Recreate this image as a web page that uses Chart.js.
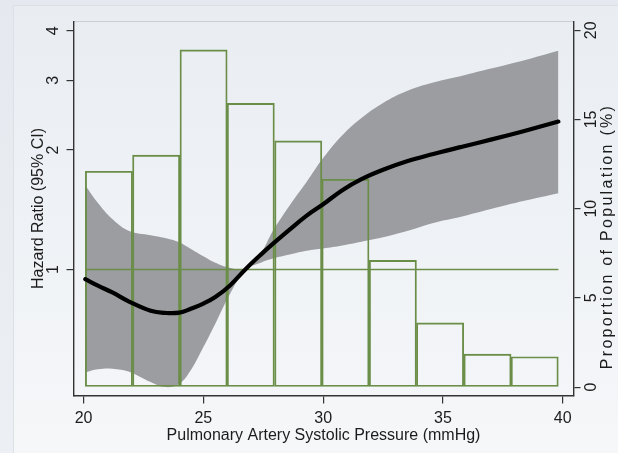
<!DOCTYPE html>
<html>
<head>
<meta charset="utf-8">
<script src="https://cdn.jsdelivr.net/npm/chart.js@4.4.1/dist/chart.umd.min.js"></script>
<style>
html, body { margin: 0; padding: 0; }
body { width: 618px; height: 453px; overflow: hidden; position: relative; background: linear-gradient(#e5e9ef, #eceff3); }
#panel { position: absolute; left: 13px; top: 5px; right: 0; bottom: 0; border-left: 1px solid #dce1e8; border-top: 1px solid #dce1e8; background: linear-gradient(#e9edf2, #f5f7f9); }
#wrap { position: absolute; left: 0; top: 0; width: 618px; height: 453px; }
</style>
</head>
<body>
<div id="panel"></div>
<div id="wrap"><canvas id="chart" width="618" height="453"></canvas></div>
<script>
// spline fit: pressure (mmHg) -> hazard ratio with 95% CI
const pressure    = [20.07, 20.6, 21.2, 21.9, 22.8, 23.4, 24.0, 24.5, 25.0, 25.5, 26.1, 26.75, 27.4, 27.9, 28.6, 29.3, 30.0, 30.8, 31.6, 32.5, 33.5, 34.6, 35.8, 37.0, 38.4, 39.82];
const hazardRatio = [0.945, 0.91, 0.875, 0.83, 0.787, 0.777, 0.778, 0.797, 0.82, 0.852, 0.91, 1.0, 1.09, 1.16, 1.26, 1.365, 1.46, 1.585, 1.69, 1.785, 1.875, 1.955, 2.04, 2.125, 2.235, 2.36];
const ciUpper     = [1.63, 1.47, 1.34, 1.25, 1.22, 1.2, 1.17, 1.125, 1.08, 1.04, 1.01, 1.003, 1.1, 1.25, 1.45, 1.66, 1.91, 2.18, 2.41, 2.63, 2.82, 2.96, 3.08, 3.21, 3.37, 3.56];
const ciLower     = [0.55, 0.56, 0.562, 0.552, 0.52, 0.505, 0.515, 0.56, 0.637, 0.73, 0.865, 0.997, 1.04, 1.065, 1.09, 1.115, 1.13, 1.15, 1.175, 1.205, 1.25, 1.31, 1.36, 1.42, 1.49, 1.557];

// histogram of the population
const binCenters = [21.06, 23.03, 25.01, 26.98, 28.96, 30.93, 32.91, 34.88, 36.86, 38.83];
const binPercent = [12.1, 13.0, 18.9, 15.9, 13.8, 11.65, 7.1, 3.6, 1.85, 1.7];

const xTicks = [20, 25, 30, 35, 40];
const hrTicks = [1, 2, 3, 4];
const pctTicks = [0, 5, 10, 15, 20];

const green = '#6a8e48';
const band = '#9b9da0';
const ink = '#1c1c1c';
const axisColor = '#333';
const FONT = '"Liberation Sans", Arial, sans-serif';

const pts = (ys) => pressure.map((x, i) => ({ x: x, y: ys[i] }));

function rotText(ctx, text, x, y) {
    ctx.save();
    ctx.translate(x, y);
    ctx.rotate(-Math.PI / 2);
    ctx.fillText(text, 0, 0);
    ctx.restore();
}

const frame = {
    id: 'frame',
    beforeDraw(chart) {
        const a = chart.chartArea, ctx = chart.ctx;
        ctx.save();
        ctx.strokeStyle = '#c9ced5';
        ctx.lineWidth = 1;
        ctx.strokeRect(a.left, a.top, a.right - a.left, a.bottom - a.top);
        ctx.restore();
    }
};

const axisText = {
    id: 'axisText',
    afterDraw(chart) {
        const ctx = chart.ctx, a = chart.chartArea;
        const yl = chart.scales.y, yr = chart.scales.y2;
        ctx.save();
        ctx.fillStyle = ink;
        ctx.font = '16px ' + FONT;
        ctx.textAlign = 'center';
        ctx.textBaseline = 'middle';
        hrTicks.forEach(v => rotText(ctx, String(v), a.left - 20, yl.getPixelForValue(v)));
        pctTicks.forEach(v => rotText(ctx, String(v), a.right + 18, yr.getPixelForValue(v)));
        rotText(ctx, 'Hazard Ratio (95% CI)', a.left - 35, (a.top + a.bottom) / 2);
        ctx.letterSpacing = '2.3px';
        rotText(ctx, 'Proportion of Population (%)', a.right + 34, (a.top + a.bottom) / 2 + 28);
        ctx.restore();
    }
};

new Chart(document.getElementById('chart'), {
    type: 'line',
    data: {
        datasets: [
            { label: 'CI lower', data: pts(ciLower), yAxisID: 'y', borderWidth: 0, pointRadius: 0, tension: 0.4, fill: false, order: 11 },
            { label: 'CI upper', data: pts(ciUpper), yAxisID: 'y', borderWidth: 0, pointRadius: 0, tension: 0.4, fill: '-1', backgroundColor: band, order: 10 },
            { type: 'bar', label: 'Population', data: binCenters.map((x, i) => ({ x: x, y: binPercent[i] })), yAxisID: 'y2',
              backgroundColor: 'rgba(0,0,0,0)', borderColor: green, borderWidth: 1.2, borderSkipped: false,
              barPercentage: 1, categoryPercentage: 1, order: 3 },
            { label: 'Reference', data: [{ x: pressure[0], y: 1 }, { x: pressure[pressure.length - 1], y: 1 }], yAxisID: 'y',
              borderColor: green, borderWidth: 1.4, pointRadius: 0, order: 2 },
            { label: 'Hazard ratio', data: pts(hazardRatio), yAxisID: 'y', borderColor: '#000', borderWidth: 4.2,
              borderCapStyle: 'round', pointRadius: 0, tension: 0.4, order: 0 }
        ]
    },
    options: {
        responsive: false,
        animation: false,
        layout: { padding: { top: 21.5, left: 0, right: 0, bottom: 0 } },
        plugins: { legend: { display: false }, tooltip: { enabled: false } },
        scales: {
            x: {
                type: 'linear', position: 'bottom', min: 19.58, max: 40.45, offset: false,
                afterBuildTicks: s => { s.ticks = xTicks.map(v => ({ value: v })); },
                afterFit: s => { s.height = 57.5; },
                grid: { offset: false, drawOnChartArea: false, drawTicks: true, tickLength: 8, color: axisColor, lineWidth: 1.2 },
                border: { display: true, color: axisColor, width: 1.4 },
                ticks: { color: ink, font: { family: FONT, size: 16 }, padding: 5, maxRotation: 0 },
                title: { display: true, text: 'Pulmonary Artery Systolic Pressure (mmHg)', color: ink,
                         font: { family: FONT, size: 16 }, padding: { top: 0, bottom: 8 } }
            },
            y: {
                type: 'logarithmic', position: 'left', min: 0.481, max: 4.22,
                afterBuildTicks: s => { s.ticks = hrTicks.map(v => ({ value: v })); },
                afterFit: s => { s.width = 73.5; },
                grid: { drawOnChartArea: false, drawTicks: true, tickLength: 7, color: axisColor, lineWidth: 1.2 },
                border: { display: true, color: axisColor, width: 1.4 },
                ticks: { display: false }
            },
            y2: {
                type: 'linear', position: 'right', min: -0.47, max: 20.49,
                afterBuildTicks: s => { s.ticks = pctTicks.map(v => ({ value: v })); },
                afterFit: s => { s.width = 44.5; },
                grid: { drawOnChartArea: false, drawTicks: true, tickLength: 7, color: axisColor, lineWidth: 1.2 },
                border: { display: true, color: axisColor, width: 1.4 },
                ticks: { display: false }
            }
        }
    },
    plugins: [frame, axisText]
});
</script>
</body>
</html>
